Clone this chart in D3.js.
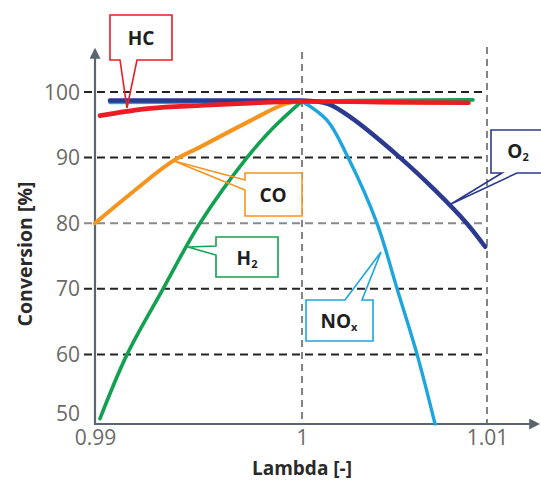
<!DOCTYPE html>
<html>
<head>
<meta charset="utf-8">
<script src="https://cdn.jsdelivr.net/npm/d3@7"></script>
<style>
  html, body { margin: 0; padding: 0; background: #fff; }
  svg { display: block; }
</style>
</head>
<body>
<svg id="chart" width="541" height="482"></svg>
<script>
// Axis ticks
const lambdaTicks = [0.99, 1, 1.01];
const lambdaTickLabels = ["0.99", "1", "1.01"];
const conversionTicks = [50, 60, 70, 80, 90, 100];

// Conversion curves: [lambda, conversion %]
const hcPoints = [
  [0.99024, 96.4], [0.99266, 97.5], [0.99507, 97.95], [0.9975, 98.3],
  [1.0, 98.6], [1.0045, 98.45], [1.0090, 98.35]
];
const coPoints = [
  [0.99, 80.0], [0.99184, 84.8], [0.99377, 89.5], [0.99507, 91.6],
  [0.99749, 95.6], [0.99918, 98.2], [1.0, 98.6], [1.0045, 98.45], [1.0089, 98.35]
];
const h2Points = [
  [0.99024, 50.2], [0.99155, 60.0], [0.99329, 70.0],
  [0.99507, 80.0], [0.99734, 90.0], [0.9986, 94.5], [1.0, 98.6],
  [1.0046, 98.75], [1.00924, 98.8]
];
const noxPoints = [
  [0.99072, 98.4], [0.995, 98.45], [1.0, 98.6], [1.00135, 95.7],
  [1.00249, 90.0], [1.00405, 80.0], [1.00514, 70.0], [1.00622, 60.0],
  [1.00719, 49.4]
];
const o2Points = [
  [0.99072, 98.7], [0.995, 98.7], [1.0, 98.7], [1.0014, 98.2],
  [1.0026, 96.2], [1.0053, 90.0], [1.0072, 85.0], [1.0089, 80.0],
  [1.0099, 76.4]
];

const svg = d3.select("#chart");

// Lambda axis is piecewise: the rich side is drawn wider than the lean side
const x = d3.scaleLinear().domain(lambdaTicks).range([95, 302, 487]);
const y = d3.scaleLinear().domain([50, 100]).range([420, 92]);

const axisY0 = 424;      // baseline of the lambda axis
const axisColor = "#5a6570";

// Horizontal dashed grid lines (with the short tick to the left of the axis)
svg.append("g")
  .selectAll("line")
  .data(conversionTicks.filter(d => d > 50))
  .join("line")
  .attr("x1", 84)
  .attr("x2", x(1.01))
  .attr("y1", d => y(d))
  .attr("y2", d => y(d))
  .attr("stroke", d => d === 80 ? "#8a8a8a" : "#222")
  .attr("stroke-width", 2)
  .attr("stroke-dasharray", "8,5");

// Vertical dashed grid lines at lambda = 1 and 1.01
svg.append("g")
  .selectAll("line")
  .data(lambdaTicks.slice(1))
  .join("line")
  .attr("x1", d => x(d))
  .attr("x2", d => x(d))
  .attr("y1", d => d === 1 ? 52 : 47)
  .attr("y2", axisY0)
  .attr("stroke", "#666")
  .attr("stroke-width", 1.6)
  .attr("stroke-dasharray", "7,5");

// Tick labels via D3 axes (no domain, no tick lines)
const yAxis = d3.axisLeft(y).tickValues(conversionTicks).tickSize(0).tickPadding(0);
const yAxisG = svg.append("g").attr("transform", "translate(80,0)").call(yAxis);
yAxisG.select(".domain").remove();
yAxisG.selectAll("text")
  .attr("font-family", "'Open Sans', sans-serif")
  .attr("font-size", 21)
  .attr("fill", "#6a6a6a")
  .attr("dy", d => d === 50 ? "0.0em" : "0.34em");

const xAxis = d3.axisBottom(x).tickValues(lambdaTicks)
  .tickFormat((d, i) => lambdaTickLabels[i]).tickSize(0).tickPadding(0);
const xAxisG = svg.append("g").attr("transform", `translate(0,${axisY0 + 6})`).call(xAxis);
xAxisG.select(".domain").remove();
xAxisG.selectAll("text")
  .attr("font-family", "'Open Sans', sans-serif")
  .attr("font-size", 21)
  .attr("fill", "#6a6a6a")
  .attr("dy", "0.71em");

// Axis lines with arrowheads
const defs = svg.append("defs");
defs.append("marker")
  .attr("id", "arrow")
  .attr("viewBox", "0 0 10 10")
  .attr("refX", 8).attr("refY", 5)
  .attr("markerWidth", 5).attr("markerHeight", 5)
  .attr("markerUnits", "strokeWidth")
  .attr("orient", "auto")
  .append("path")
  .attr("d", "M0,0 L10,5 L0,10 Z")
  .attr("fill", axisColor);

svg.append("line")
  .attr("x1", x(0.99)).attr("x2", x(0.99))
  .attr("y1", axisY0 + 1).attr("y2", 50)
  .attr("stroke", axisColor).attr("stroke-width", 2.2)
  .attr("marker-end", "url(#arrow)");
svg.append("line")
  .attr("x1", x(0.99) - 1).attr("x2", 538)
  .attr("y1", axisY0).attr("y2", axisY0)
  .attr("stroke", axisColor).attr("stroke-width", 2.2)
  .attr("marker-end", "url(#arrow)");

// Axis titles
svg.append("text")
  .attr("transform", "translate(32,254) rotate(-90)")
  .attr("text-anchor", "middle")
  .attr("font-family", "'Open Sans', sans-serif")
  .attr("font-weight", "bold")
  .attr("font-size", 19.5)
  .attr("fill", "#2a2a2a")
  .text("Conversion [%]");
svg.append("text")
  .attr("x", 302).attr("y", 475)
  .attr("text-anchor", "middle")
  .attr("font-family", "'Open Sans', sans-serif")
  .attr("font-weight", "bold")
  .attr("font-size", 19)
  .attr("fill", "#2a2a2a")
  .text("Lambda [-]");

// Curves: rich and lean branches are smoothed separately so they meet in a peak at lambda = 1
const line = d3.line()
  .x(d => x(d[0]))
  .y(d => y(d[1]))
  .curve(d3.curveCatmullRom.alpha(0.5));

const series = [
  { name: "CO",  points: coPoints,  color: "#f7941d", width: 4 },
  { name: "H2",  points: h2Points,  color: "#12a150", width: 3.6 },
  { name: "NOx", points: noxPoints, color: "#1ea5de", width: 3.4 },
  { name: "O2",  points: o2Points,  color: "#2b3990", width: 4.4 },
  { name: "HC",  points: hcPoints,  color: "#ec1c24", width: 4.6 }
];

const curveG = svg.append("g");
series.forEach(s => {
  const rich = s.points.filter(p => p[0] <= 1);
  const lean = s.points.filter(p => p[0] >= 1);
  curveG.append("path")
    .attr("d", line(rich) + line(lean))
    .attr("fill", "none")
    .attr("stroke", s.color)
    .attr("stroke-width", s.width)
    .attr("stroke-linecap", "round")
    .attr("stroke-linejoin", "round");
});

// Callout boxes: rectangle + pointer outline
const callouts = [
  { color: "#ec1c24", box: [110, 15, 172, 60],
    outline: "M110,15 H172 V60 H137 L127,108 L120,60 H110 Z",
    label: [{ t: "HC" }], cx: 141, cy: 38 },
  { color: "#f7941d", box: [245, 173, 302, 216],
    outline: "M245,173 H302 V216 H245 V190 L174,161 L245,180 Z",
    label: [{ t: "CO" }], cx: 273, cy: 195 },
  { color: "#12a150", box: [216, 237, 278, 277],
    outline: "M216,237 H278 V277 H216 V255 L188,247 L216,246 Z",
    label: [{ t: "H" }, { t: "2", sub: true }], cx: 247, cy: 258 },
  { color: "#1ea5de", box: [306, 300, 373, 341],
    outline: "M306,300 H345 L381,252 L362,300 H373 V341 H306 Z",
    label: [{ t: "NO" }, { t: "x", sub: true }], cx: 339, cy: 321 },
  { color: "#2b3990", box: [491, 130, 560, 173],
    outline: "M491,130 H560 V173 H517 L451,204 L502,173 H491 Z",
    label: [{ t: "O" }, { t: "2", sub: true }], cx: 518, cy: 151 }
];

const cg = svg.append("g");
callouts.forEach(c => {
  const [x0, y0, x1, y1] = c.box;
  cg.append("rect")
    .attr("x", x0).attr("y", y0)
    .attr("width", x1 - x0).attr("height", y1 - y0)
    .attr("fill", "#fff");
  cg.append("path")
    .attr("d", c.outline)
    .attr("fill", "none")
    .attr("stroke", c.color)
    .attr("stroke-width", 1.6)
    .attr("stroke-linejoin", "miter");
  const txt = cg.append("text")
    .attr("x", c.cx).attr("y", c.cy)
    .attr("text-anchor", "middle")
    .attr("dominant-baseline", "central")
    .attr("font-family", "'Open Sans', sans-serif")
    .attr("font-weight", "bold")
    .attr("font-size", 19)
    .attr("fill", "#1e1e1e");
  c.label.forEach(p => {
    const ts = txt.append("tspan").text(p.t);
    if (p.sub) ts.attr("font-size", 11).attr("dy", "0.45em");
  });
});
</script>
</body>
</html>
